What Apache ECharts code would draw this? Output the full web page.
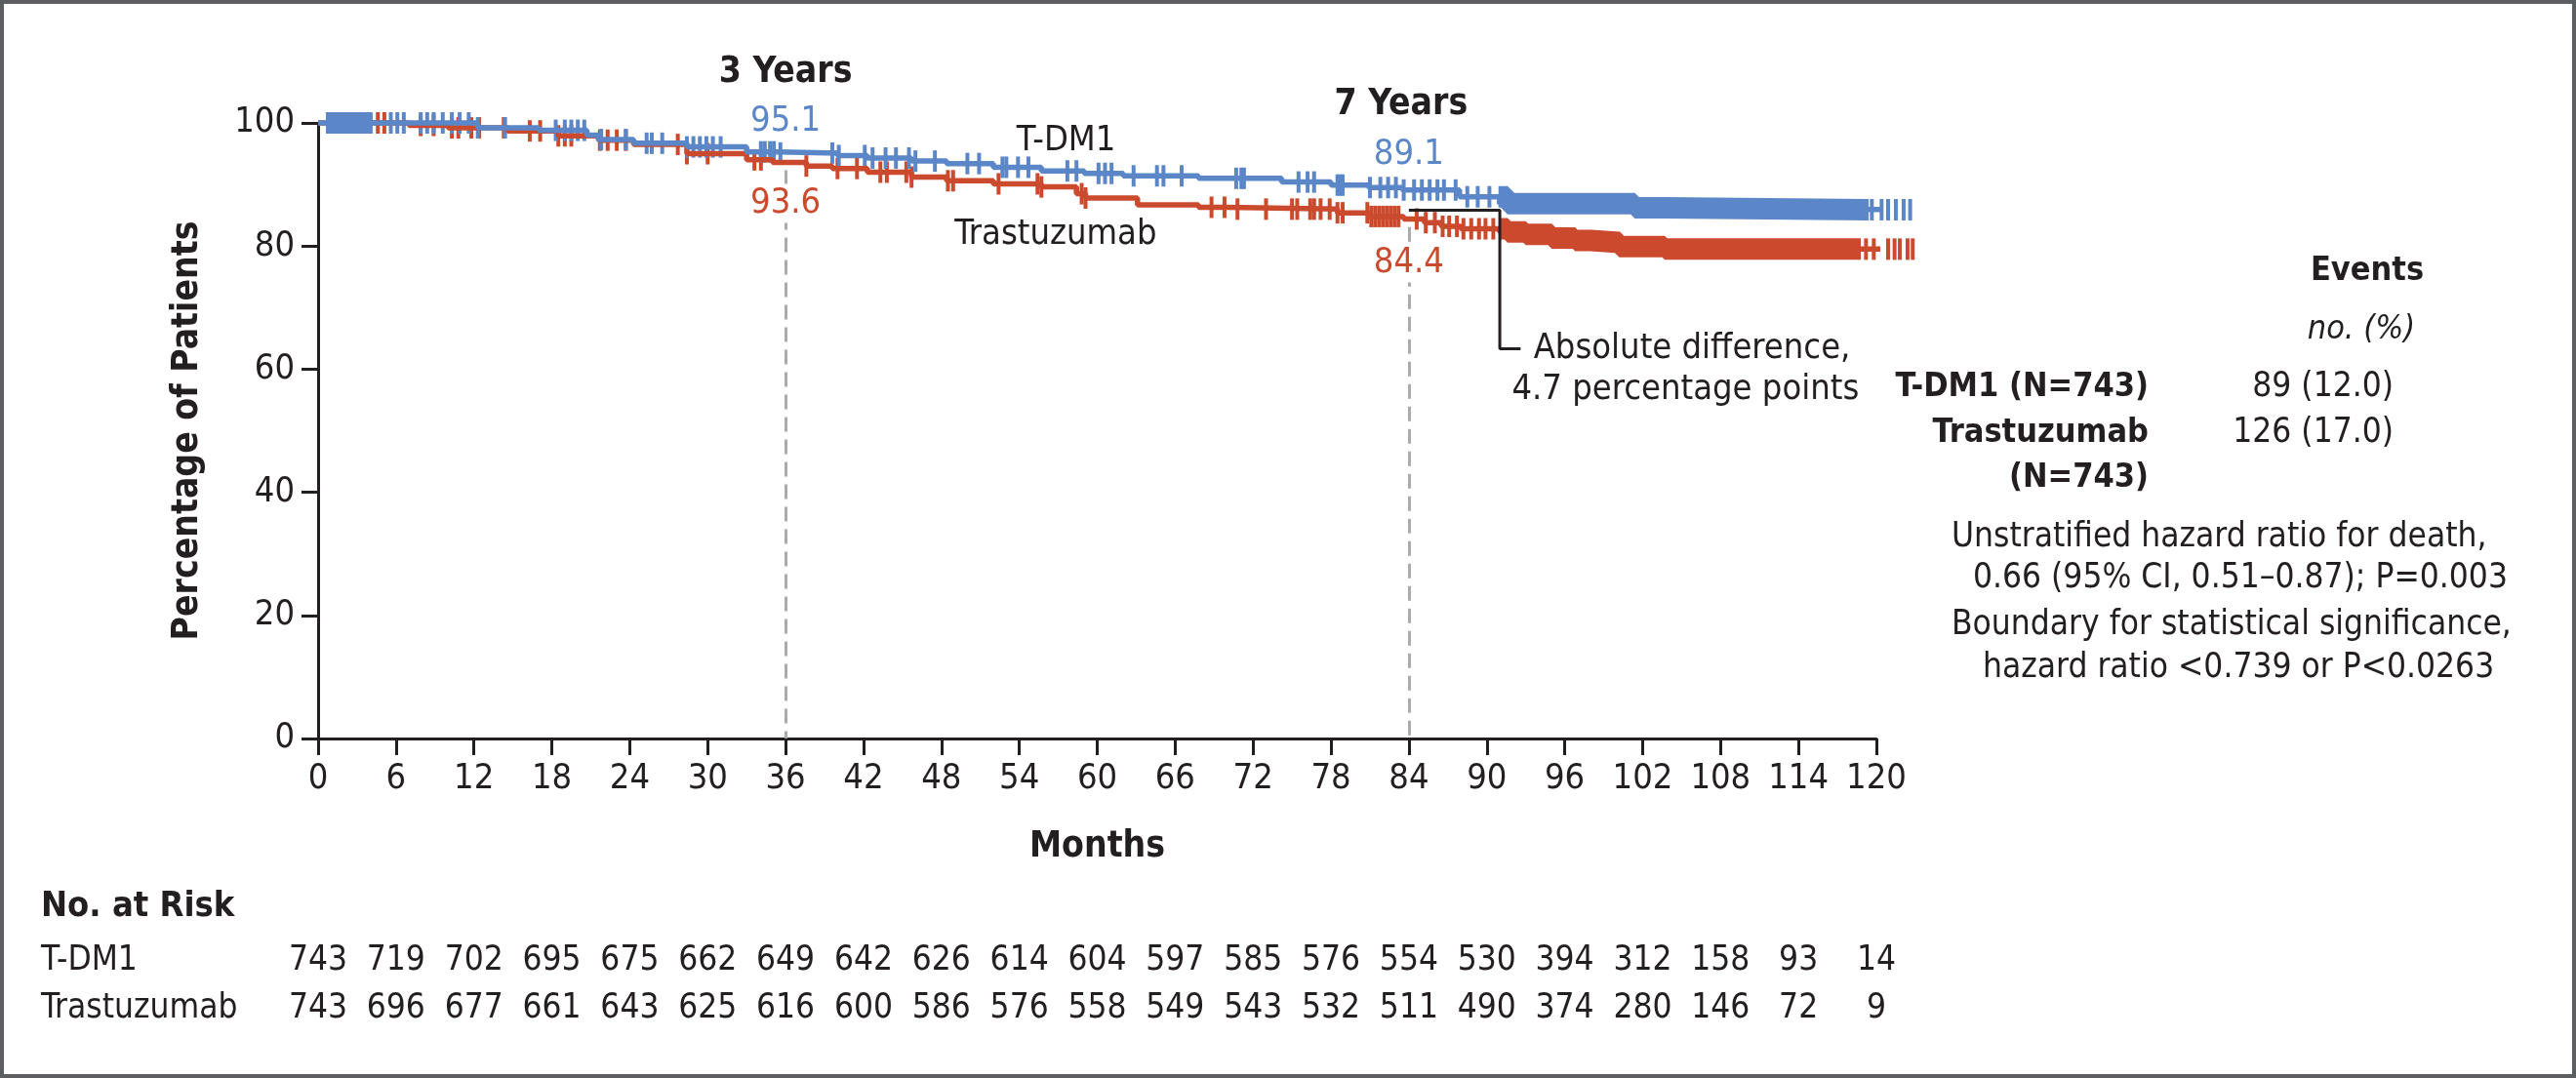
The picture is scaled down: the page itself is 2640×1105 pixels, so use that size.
<!DOCTYPE html>
<html><head><meta charset="utf-8">
<script src="https://cdn.jsdelivr.net/npm/echarts@6/dist/echarts.min.js"></script>
<style>html,body{margin:0;padding:0;background:#fff}#c{width:2640px;height:1105px}</style>
</head><body><div id="c"></div>
<script>
// ---------- data ----------
const monthTicks = [0,6,12,18,24,30,36,42,48,54,60,66,72,78,84,90,96,102,108,114,120];
// Kaplan-Meier steps: [month, % alive]
const tdm1Steps = [[0,100],[12.3,99.2],[17,98.8],[20.7,98.0],[21.6,97.3],[24.3,96.7],[28.4,96.1],[33,95.3],[35.5,95.1],[40,94.7],[42.3,94.3],[45.7,93.8],[48.4,93.4],[52,92.8],[55.7,92.2],[59,91.8],[62,91.4],[67.8,91.0],[74.2,90.4],[78,89.9],[80.9,89.5],[83.5,89.1],[87.9,88.0],[91.6,86.9],[101.4,86.2],[103.7,85.9],[123.4,85.9]];
const trasSteps = [[0,100],[7,99.6],[10,99.2],[14.6,98.7],[18.5,97.9],[21.6,97.2],[24.3,96.5],[28.4,95.0],[33,94.0],[35,93.6],[37.6,93.0],[39.6,92.6],[42.3,92.0],[45.7,91.2],[48.4,90.6],[52,90.1],[55.7,89.6],[58.4,88.5],[59.1,87.8],[63.1,86.7],[67.8,86.3],[70,86.0],[78.5,85.4],[80.9,84.8],[83.6,84.4],[85.2,83.8],[86.5,83.2],[88,82.8],[91.6,82.3],[93,81.9],[95,81.3],[96.8,80.9],[98,80.6],[100.2,79.9],[103.7,79.5],[123.1,79.5]];
// censored observations (months)
const tdm1Censor = [5.6,6.1,6.6,7.9,8.4,8.9,9.6,10.3,10.9,11.6,12.3,14.4,18.3,19.0,19.5,20.0,20.5,21.8,23.7,25.3,25.7,26.5,28.4,28.9,29.4,29.9,30.4,31.0,34.1,34.4,34.8,35.1,35.6,39.6,40.1,42.1,42.7,43.7,44.5,45.5,46.0,47.5,50.0,50.9,52.7,53.0,53.9,54.7,57.7,58.4,60.1,60.6,61.1,62.8,64.6,65.1,66.5,70.7,71.1,71.3,75.5,76.2,76.7,78.5,78.7,78.9,81.0,81.8,82.4,83.0,83.6,84.4,85.0,85.6,86.2,86.7,87.6,88.5,89.3,90.2,119.65,120.4,120.9,121.5,122.1,122.6];
const trasCensor = [2.5,3.0,3.5,4.6,5.1,7.9,8.9,10.3,10.8,11.8,12.4,14.3,16.3,17.1,18.5,19.0,19.5,21.7,22.3,23.0,23.7,27.7,28.4,30.0,33.6,34.1,37.6,40.0,41.5,43.3,43.8,45.3,45.7,48.5,48.9,52.4,55.4,55.7,58.8,59.1,68.8,69.8,70.8,73.0,75.0,75.4,76.4,76.7,77.2,77.9,78.5,78.9,80.8,81.1,81.4,81.7,82.0,82.3,82.6,82.9,83.2,84.6,85.3,86.0,86.6,87.1,87.7,88.2,88.8,89.4,89.9,90.5,119.2,119.8,120.9,121.4,121.8,122.4,122.8];
// stretches where censor marks merge into a solid band [from, to]
const tdm1Dense = [[0.6,4.2],[90.9,119.4]];
const trasDense = [[91.0,118.8]];
// landmark estimates
const landmarkMonths = [36,84];
const tdm1Landmark = [95.1,89.1];
const trasLandmark = [93.6,84.4];
// number at risk
const riskTdm1 = [743,719,702,695,675,662,649,642,626,614,604,597,585,576,554,530,394,312,158,93,14];
const riskTras = [743,696,677,661,643,625,616,600,586,576,558,549,543,532,511,490,374,280,146,72,9];
const groups = ['T-DM1','Trastuzumab'];

// ---------- helpers ----------
const BLUE = '#5b87c8', RED = '#cb4a2d', INK = '#231f20', DASH = '#a9abae';
const FF = "'Liberation Sans Narrow','Arial Narrow','DejaVu Sans Condensed',sans-serif";
function survAt(steps, t){ let v = steps[0][1]; for (const [m,p] of steps){ if (m <= t) v = p; else break; } return v; }
function censorPts(steps, times){ return times.map(t => [t, survAt(steps, t)]); }
function densePts(steps, bands){
  const out = [];
  bands.forEach(([a,b]) => {
    out.push([a, survAt(steps,a)]);
    steps.forEach(([m]) => { if (m > a && m < b) out.push([m, survAt(steps,m)]); });
    out.push([b, survAt(steps,b)]);
    out.push('-');
  });
  return out;
}
const txt = (extra) => Object.assign({fontFamily: FF, color: INK, fontSize: 36, textBorderWidth:0}, extra);

function kmSeries(name, steps, censor, dense, color){
  return [
    {name, type:'line', step:'end', data: steps, showSymbol:false, clip:false, silent:true,
     lineStyle:{color, width:5.5}, itemStyle:{color}},
    {name:name+' dense', type:'line', step:'end', data: densePts(steps, dense), showSymbol:false, clip:false, silent:true,
     connectNulls:false, lineStyle:{color, width:22, cap:'butt'}, itemStyle:{color}},
    {name:name+' censored', type:'scatter', data: censorPts(steps, censor), symbol:'rect', symbolSize:[4,22],
     clip:false, silent:true, itemStyle:{color, opacity:1}}
  ];
}

const annot = (value, text, color, offset, extra) => ({
  value, label: Object.assign({show:true, formatter:text, color, offset, fontFamily:FF, fontSize:36,
    position:'inside', textBorderWidth:0, textBorderColor:'transparent', textShadowBlur:0}, extra||{})
});

const chart = echarts.init(document.getElementById('c'), null, {renderer:'canvas'});
const option = {
  backgroundColor:'#fff',
  animation:false,
  grid:[
    {left:326, top:126, width:1597, height:631},
    {left:326, top:961, width:1597, height:97}
  ],
  xAxis:[
    {type:'value', gridIndex:0, min:0, max:120, interval:6,
     axisLine:{show:true, lineStyle:{color:INK, width:3}},
     axisTick:{show:true, length:17, lineStyle:{color:INK, width:3}},
     axisLabel:txt({margin:24}), splitLine:{show:false},
     name:'Months', nameLocation:'middle', nameGap:93,
     nameTextStyle:txt({fontSize:37, fontWeight:'bold'})},
    {type:'value', gridIndex:1, min:0, max:120, show:false}
  ],
  yAxis:[
    {type:'value', gridIndex:0, min:0, max:100, interval:20,
     axisLine:{show:true, lineStyle:{color:INK, width:3}},
     axisTick:{show:true, length:17, lineStyle:{color:INK, width:3}},
     axisLabel:txt({margin:24}), splitLine:{show:false},
     name:'Percentage of Patients', nameLocation:'middle', nameGap:115,
     nameTextStyle:txt({fontSize:37, fontWeight:'bold'})},
    {type:'category', gridIndex:1, data:groups, inverse:true,
     axisLine:{show:false}, axisTick:{show:false}, splitLine:{show:false},
     axisLabel:txt({align:'left', margin:284, fontSize:35})}
  ],
  series:[
    // landmark dashed guides
    {type:'line', data:[], markLine:{symbol:'none', silent:true, animation:false,
      lineStyle:{type:[15,8], color:DASH, width:3}, label:{show:false},
      data: landmarkMonths.map((m,i)=>[{coord:[m, trasLandmark[i]-1.3]},{coord:[m,0]}])}},
    ...kmSeries('Trastuzumab', trasSteps, trasCensor, trasDense, RED),
    ...kmSeries('T-DM1', tdm1Steps, tdm1Censor, tdm1Dense, BLUE),
    // absolute difference bracket
    {type:'line', data:[[84,85.8],[91,85.8],[91,63.3],[92.6,63.3]], showSymbol:false, silent:true, clip:false,
     lineStyle:{color:INK, width:3}},
    // annotations
    {type:'scatter', symbolSize:0, clip:false, silent:true, z:10, itemStyle:{opacity:1},
     data:[
      annot([landmarkMonths[0],108.1], '3 Years', INK, [0,0], {fontWeight:'bold', fontSize:37}),
      annot([83.4,103.0], '7 Years', INK, [0,0], {fontWeight:'bold', fontSize:37}),
      annot([landmarkMonths[0],tdm1Landmark[0]], String(tdm1Landmark[0]), BLUE, [0,-32]),
      annot([landmarkMonths[1],tdm1Landmark[1]], String(tdm1Landmark[1]), BLUE, [0,-36]),
      annot([landmarkMonths[0],trasLandmark[0]], String(trasLandmark[0]), RED, [0,42], {backgroundColor:'#fff', padding:[2,4]}),
      annot([landmarkMonths[1],trasLandmark[1]], String(trasLandmark[1]), RED, [0,45], {backgroundColor:'#fff', padding:[2,4]}),
      annot([57.6,97.0], 'T-DM1', INK, [0,0]),
      annot([56.8,81.9], 'Trastuzumab', INK, [0,0]),
      annot([105.8,63.3], 'Absolute difference,', INK, [0,0]),
      annot([105.3,56.7], '4.7 percentage points', INK, [0,0])
     ]},
    // numbers at risk
    {type:'scatter', xAxisIndex:1, yAxisIndex:1, symbolSize:0, silent:true, itemStyle:{opacity:1},
     data: monthTicks.map((m,i)=>[m, groups[0], riskTdm1[i]]).concat(monthTicks.map((m,i)=>[m, groups[1], riskTras[i]])),
     label:{show:true, position:'inside', formatter:p=>String(p.value[2]), fontFamily:FF, fontSize:35, color:INK, textBorderWidth:0}}
  ],
  graphic:[
    {type:'rect', shape:{x:2, y:2, width:2636, height:1101}, style:{fill:'none', stroke:'#5d5e62', lineWidth:4}, silent:true},
    {type:'text', x:42, y:930, style:{text:'No. at Risk', font:"bold 36px "+FF, fill:INK, align:'left', verticalAlign:'middle'}},
    {type:'text', x:2426, y:278, style:{text:'Events', font:"bold 34px "+FF, fill:INK, align:'center', verticalAlign:'middle'}},
    {type:'text', x:2420, y:338, style:{text:'no. (%)', font:"italic 34px "+FF, fill:INK, align:'center', verticalAlign:'middle'}},
    {type:'text', x:2202, y:397, style:{text:'T-DM1 (N=743)', font:"bold 34px "+FF, fill:INK, align:'right', verticalAlign:'middle'}},
    {type:'text', x:2453, y:397, style:{text:'89 (12.0)', font:"35px "+FF, fill:INK, align:'right', verticalAlign:'middle'}},
    {type:'text', x:2202, y:444, style:{text:'Trastuzumab', font:"bold 34px "+FF, fill:INK, align:'right', verticalAlign:'middle'}},
    {type:'text', x:2453, y:444, style:{text:'126 (17.0)', font:"35px "+FF, fill:INK, align:'right', verticalAlign:'middle'}},
    {type:'text', x:2202, y:490, style:{text:'(N=743)', font:"bold 34px "+FF, fill:INK, align:'right', verticalAlign:'middle'}},
    {type:'text', x:2000, y:551, style:{text:'Unstratified hazard ratio for death,', font:"35px "+FF, fill:INK, align:'left', verticalAlign:'middle'}},
    {type:'text', x:2022, y:593, style:{text:'0.66 (95% CI, 0.51\u20130.87); P=0.003', font:"35px "+FF, fill:INK, align:'left', verticalAlign:'middle'}},
    {type:'text', x:2000, y:641, style:{text:'Boundary for statistical significance,', font:"35px "+FF, fill:INK, align:'left', verticalAlign:'middle'}},
    {type:'text', x:2032, y:685, style:{text:'hazard ratio <0.739 or P<0.0263', font:"35px "+FF, fill:INK, align:'left', verticalAlign:'middle'}}
  ]
};
chart.setOption(option);
</script></body></html>
